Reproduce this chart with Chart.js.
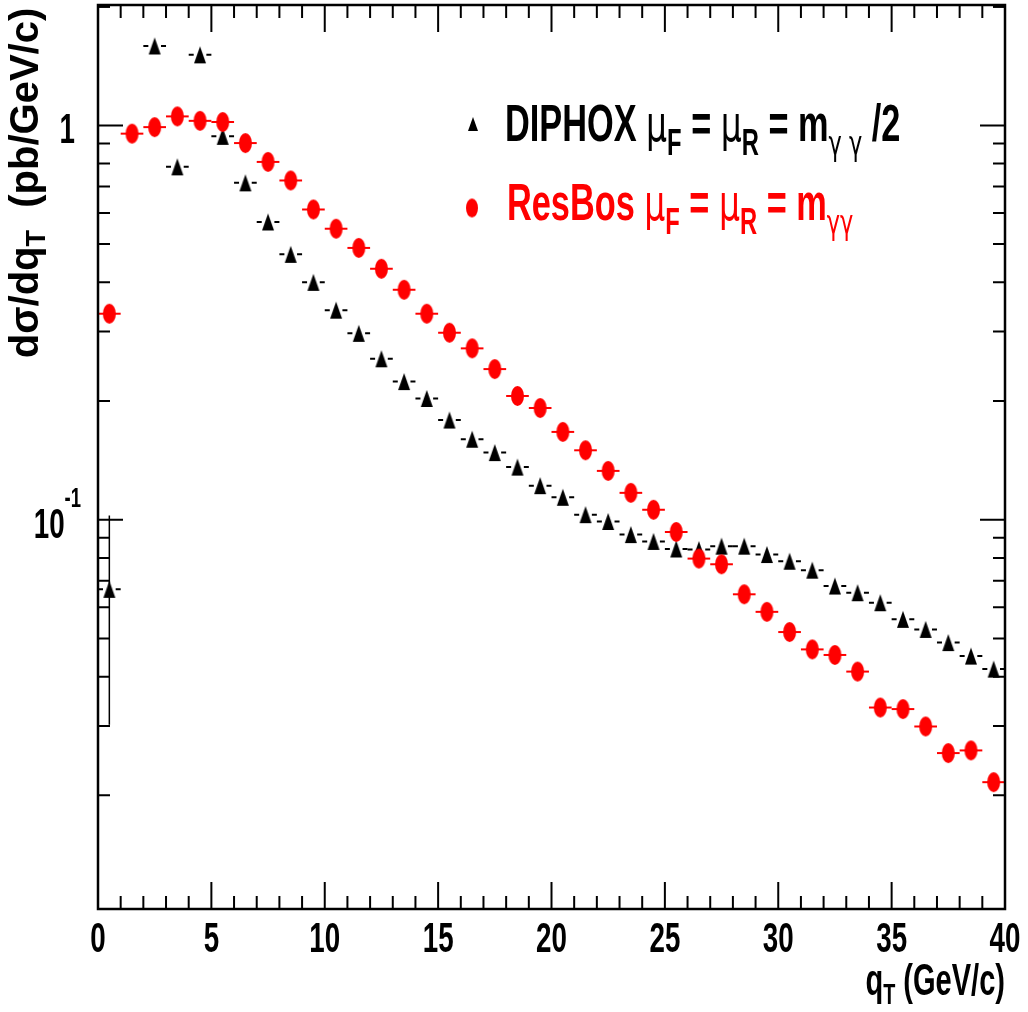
<!DOCTYPE html>
<html>
<head>
<meta charset="utf-8">
<script src="https://cdn.jsdelivr.net/npm/chart.js@4/dist/chart.umd.min.js"></script>
<style>
  html, body { margin: 0; padding: 0; background: #fff; }
  #wrap { width: 1028px; height: 1012px; }
</style>
</head>
<body>
<div id="wrap"><canvas id="qtChart" width="1028" height="1012"></canvas></div>
<script>
// bin centres of q_T (GeV/c), 1 GeV bins
const qtBins = [0.5, 1.5, 2.5, 3.5, 4.5, 5.5, 6.5, 7.5, 8.5, 9.5,
  10.5, 11.5, 12.5, 13.5, 14.5, 15.5, 16.5, 17.5, 18.5, 19.5,
  20.5, 21.5, 22.5, 23.5, 24.5, 25.5, 26.5, 27.5, 28.5, 29.5,
  30.5, 31.5, 32.5, 33.5, 34.5, 35.5, 36.5, 37.5, 38.5, 39.5];
const binWidth = 1;

// ResBos, mu_F = mu_R = m_gg
const resbos = [0.333, 0.953, 0.99, 1.054, 1.027, 1.02, 0.902, 0.808, 0.725, 0.612,
  0.547, 0.489, 0.433, 0.383, 0.333, 0.298, 0.272, 0.241, 0.206, 0.192,
  0.167, 0.150, 0.133, 0.117, 0.106, 0.0931, 0.0797, 0.0771, 0.0647, 0.0584,
  0.0519, 0.0469, 0.0454, 0.0412, 0.0334, 0.0331, 0.0299, 0.0256, 0.0260, 0.0216];

// DIPHOX, mu_F = mu_R = m_gg/2 (no entry in the second bin)
const diphox = [0.0666, null, 1.59, 0.785, 1.51, 0.938, 0.715, 0.569, 0.471, 0.400,
  0.340, 0.297, 0.256, 0.224, 0.203, 0.179, 0.160, 0.148, 0.136, 0.122,
  0.114, 0.103, 0.099, 0.0917, 0.0881, 0.0843, 0.084, 0.0857, 0.0857, 0.0816,
  0.0785, 0.0745, 0.0679, 0.0653, 0.0616, 0.0559, 0.0527, 0.0488, 0.0451, 0.0418];
// the only DIPHOX error bar that sticks out of its marker (first bin)
const diphoxErrBin = 0.5;
const diphoxErrRange = [0.0302, 0.1025];

const xTicks = [0, 5, 10, 15, 20, 25, 30, 35, 40];
const xRange = [0, 40];
const yRange = [0.0103, 2.02];

const RED = '#ff0000';
const BOLD = '"Liberation Sans", Arial, sans-serif';
const GREEK = '"DejaVu Sans", sans-serif';
const SX = 0.66; // horizontal squeeze of the ROOT-style lettering

function ellipseMarker(w, h, color) {
  const c = document.createElement('canvas');
  c.width = w + 2; c.height = h + 2;
  const g = c.getContext('2d');
  g.fillStyle = color;
  g.beginPath();
  g.ellipse(c.width / 2, c.height / 2, w / 2, h / 2, 0, 0, Math.PI * 2);
  g.fill();
  return c;
}

function triangleMarker(w, h, color) {
  const c = document.createElement('canvas');
  c.width = w + 2; c.height = h + 2;
  const g = c.getContext('2d');
  g.fillStyle = color;
  g.beginPath();
  g.moveTo(c.width / 2, 1);
  g.lineTo(c.width / 2 + w / 2, h + 1);
  g.lineTo(c.width / 2 - w / 2, h + 1);
  g.closePath();
  g.fill();
  return c;
}

// draws a run of text pieces (sub/superscripts via dy) squeezed horizontally
function drawParts(ctx, parts, x, y, align) {
  ctx.save();
  ctx.translate(x, y);
  ctx.scale(SX, 1);
  ctx.textBaseline = 'alphabetic';
  ctx.textAlign = 'left';
  let total = 0;
  const widths = parts.map(p => { ctx.font = p.font; const w = ctx.measureText(p.t).width; total += w; return w; });
  let cx = align === 'right' ? -total : align === 'center' ? -total / 2 : 0;
  parts.forEach((p, i) => {
    ctx.font = p.font;
    ctx.fillStyle = p.color || '#000';
    ctx.fillText(p.t, cx, p.dy || 0);
    cx += widths[i];
  });
  ctx.restore();
}

const rootFrame = {
  id: 'rootFrame',
  beforeDatasetsDraw(chart) {
    const ctx = chart.ctx, xs = chart.scales.x, ys = chart.scales.y;
    ctx.save();
    ctx.lineWidth = 2;
    // ResBos: full-bin horizontal bars
    ctx.strokeStyle = RED;
    qtBins.forEach((q, i) => {
      if (resbos[i] == null) return;
      const y = ys.getPixelForValue(resbos[i]);
      ctx.beginPath();
      ctx.moveTo(xs.getPixelForValue(q - binWidth / 2), y);
      ctx.lineTo(xs.getPixelForValue(q + binWidth / 2), y);
      ctx.stroke();
    });
    // DIPHOX: short dashes at the bin edges
    ctx.strokeStyle = '#000';
    qtBins.forEach((q, i) => {
      if (diphox[i] == null) return;
      const y = ys.getPixelForValue(diphox[i]);
      const l = xs.getPixelForValue(q - binWidth / 2), r = xs.getPixelForValue(q + binWidth / 2);
      ctx.beginPath();
      ctx.moveTo(l, y); ctx.lineTo(l + 5, y);
      ctx.moveTo(r - 5, y); ctx.lineTo(r, y);
      ctx.stroke();
    });
    ctx.lineWidth = 1.5;
    const ex = xs.getPixelForValue(diphoxErrBin);
    ctx.beginPath();
    ctx.moveTo(ex, ys.getPixelForValue(diphoxErrRange[0]));
    ctx.lineTo(ex, ys.getPixelForValue(diphoxErrRange[1]));
    ctx.stroke();
    ctx.restore();
  },
  afterDraw(chart) {
    const ctx = chart.ctx, xs = chart.scales.x, ys = chart.scales.y;
    const a = chart.chartArea;
    ctx.save();
    ctx.strokeStyle = '#000';
    ctx.lineWidth = 2.5;
    ctx.strokeRect(a.left, a.top, a.right - a.left, a.bottom - a.top);

    // x ticks, bottom and top
    ctx.lineWidth = 2;
    for (let v = xRange[0]; v <= xRange[1]; v++) {
      const px = xs.getPixelForValue(v);
      const len = v % 5 === 0 ? 27 : 13;
      ctx.beginPath();
      ctx.moveTo(px, a.bottom); ctx.lineTo(px, a.bottom - len);
      ctx.moveTo(px, a.top); ctx.lineTo(px, a.top + len);
      ctx.stroke();
    }
    // y ticks, left and right (log decades)
    for (let e = -2; e <= 0; e++) {
      for (let m = 1; m <= 9; m++) {
        const v = m * Math.pow(10, e);
        if (v < yRange[0] || v > yRange[1]) continue;
        const py = ys.getPixelForValue(v);
        const len = m === 1 ? 25 : 12;
        ctx.beginPath();
        ctx.moveTo(a.left, py); ctx.lineTo(a.left + len, py);
        ctx.moveTo(a.right, py); ctx.lineTo(a.right - len, py);
        ctx.stroke();
      }
    }
    const v2 = ys.getPixelForValue(2);
    ctx.beginPath();
    ctx.moveTo(a.left, v2); ctx.lineTo(a.left + 12, v2);
    ctx.moveTo(a.right, v2); ctx.lineTo(a.right - 12, v2);
    ctx.stroke();

    // x tick labels
    xTicks.forEach(v => {
      drawParts(ctx, [{ t: String(v), font: 'bold 42px ' + BOLD }], xs.getPixelForValue(v), a.bottom + 43, 'center');
    });
    // y tick labels
    drawParts(ctx, [{ t: '1', font: 'bold 42px ' + BOLD }], 75, ys.getPixelForValue(1) + 18, 'right');
    drawParts(ctx, [
      { t: '10', font: 'bold 42px ' + BOLD },
      { t: '-1', font: 'bold 28px ' + BOLD, dy: -31 }
    ], 81, ys.getPixelForValue(0.1) + 18, 'right');

    // axis titles
    drawParts(ctx, [
      { t: 'q', font: 'bold 44px ' + BOLD },
      { t: 'T', font: 'bold 30px ' + BOLD, dy: 9 },
      { t: ' (GeV/c)', font: 'bold 44px ' + BOLD }
    ], a.right, 995, 'right');

    ctx.save();
    ctx.translate(38, 183);
    ctx.rotate(-Math.PI / 2);
    ctx.textBaseline = 'alphabetic';
    const yParts = [
      { t: 'd\u03c3/dq', font: 'bold 40px ' + BOLD },
      { t: 'T', font: 'bold 27px ' + BOLD, dy: 7 },
      { t: '  (pb/GeV/c)', font: 'bold 40px ' + BOLD }
    ];
    let tot = 0;
    const ws = yParts.map(p => { ctx.font = p.font; const w = ctx.measureText(p.t).width; tot += w; return w; });
    let cx = -tot / 2;
    yParts.forEach((p, i) => { ctx.font = p.font; ctx.fillStyle = '#000'; ctx.fillText(p.t, cx, p.dy || 0); cx += ws[i]; });
    ctx.restore();

    // legend
    ctx.drawImage(legendTri, 473 - legendTri.width / 2, 124 - legendTri.height / 2);
    ctx.drawImage(legendDot, 472 - legendDot.width / 2, 208 - legendDot.height / 2);
    const big = 'bold 52px ' + BOLD, sub = 'bold 36px ' + BOLD;
    drawParts(ctx, [
      { t: 'DIPHOX ', font: big },
      { t: '\u03bc', font: '50px ' + GREEK },
      { t: 'F', font: sub, dy: 14 },
      { t: ' = ', font: big },
      { t: '\u03bc', font: '50px ' + GREEK },
      { t: 'R', font: sub, dy: 14 },
      { t: ' = m', font: big },
      { t: '\u03b3 \u03b3', font: '34px ' + GREEK, dy: 14 },
      { t: ' /2', font: big }
    ], 505, 141, 'left');
    drawParts(ctx, [
      { t: 'ResBos ', font: big, color: RED },
      { t: '\u03bc', font: '50px ' + GREEK, color: RED },
      { t: 'F', font: sub, dy: 14, color: RED },
      { t: ' = ', font: big, color: RED },
      { t: '\u03bc', font: '50px ' + GREEK, color: RED },
      { t: 'R', font: sub, dy: 14, color: RED },
      { t: ' = m', font: big, color: RED },
      { t: '\u03b3\u03b3', font: '34px ' + GREEK, dy: 14, color: RED }
    ], 507, 220, 'left');
    ctx.restore();
  }
};

const dotMarker = ellipseMarker(13, 20, RED);
const triMarker = triangleMarker(12, 17, '#000');
const legendDot = ellipseMarker(12, 19, RED);
const legendTri = triangleMarker(10, 14, '#000');

new Chart(document.getElementById('qtChart'), {
  type: 'scatter',
  data: {
    datasets: [
      {
        label: 'ResBos',
        data: qtBins.map((q, i) => ({ x: q, y: resbos[i] })),
        pointStyle: dotMarker,
        showLine: false
      },
      {
        label: 'DIPHOX',
        data: qtBins.map((q, i) => ({ x: q, y: diphox[i] })).filter(p => p.y != null),
        pointStyle: triMarker,
        showLine: false
      }
    ]
  },
  options: {
    responsive: false,
    animation: false,
    layout: { padding: { left: 98, top: 4, right: 23, bottom: 103 } },
    scales: {
      x: { type: 'linear', min: xRange[0], max: xRange[1], display: false },
      y: { type: 'logarithmic', min: yRange[0], max: yRange[1], display: false }
    },
    plugins: { legend: { display: false }, tooltip: { enabled: false } }
  },
  plugins: [rootFrame]
});
</script>
</body>
</html>
